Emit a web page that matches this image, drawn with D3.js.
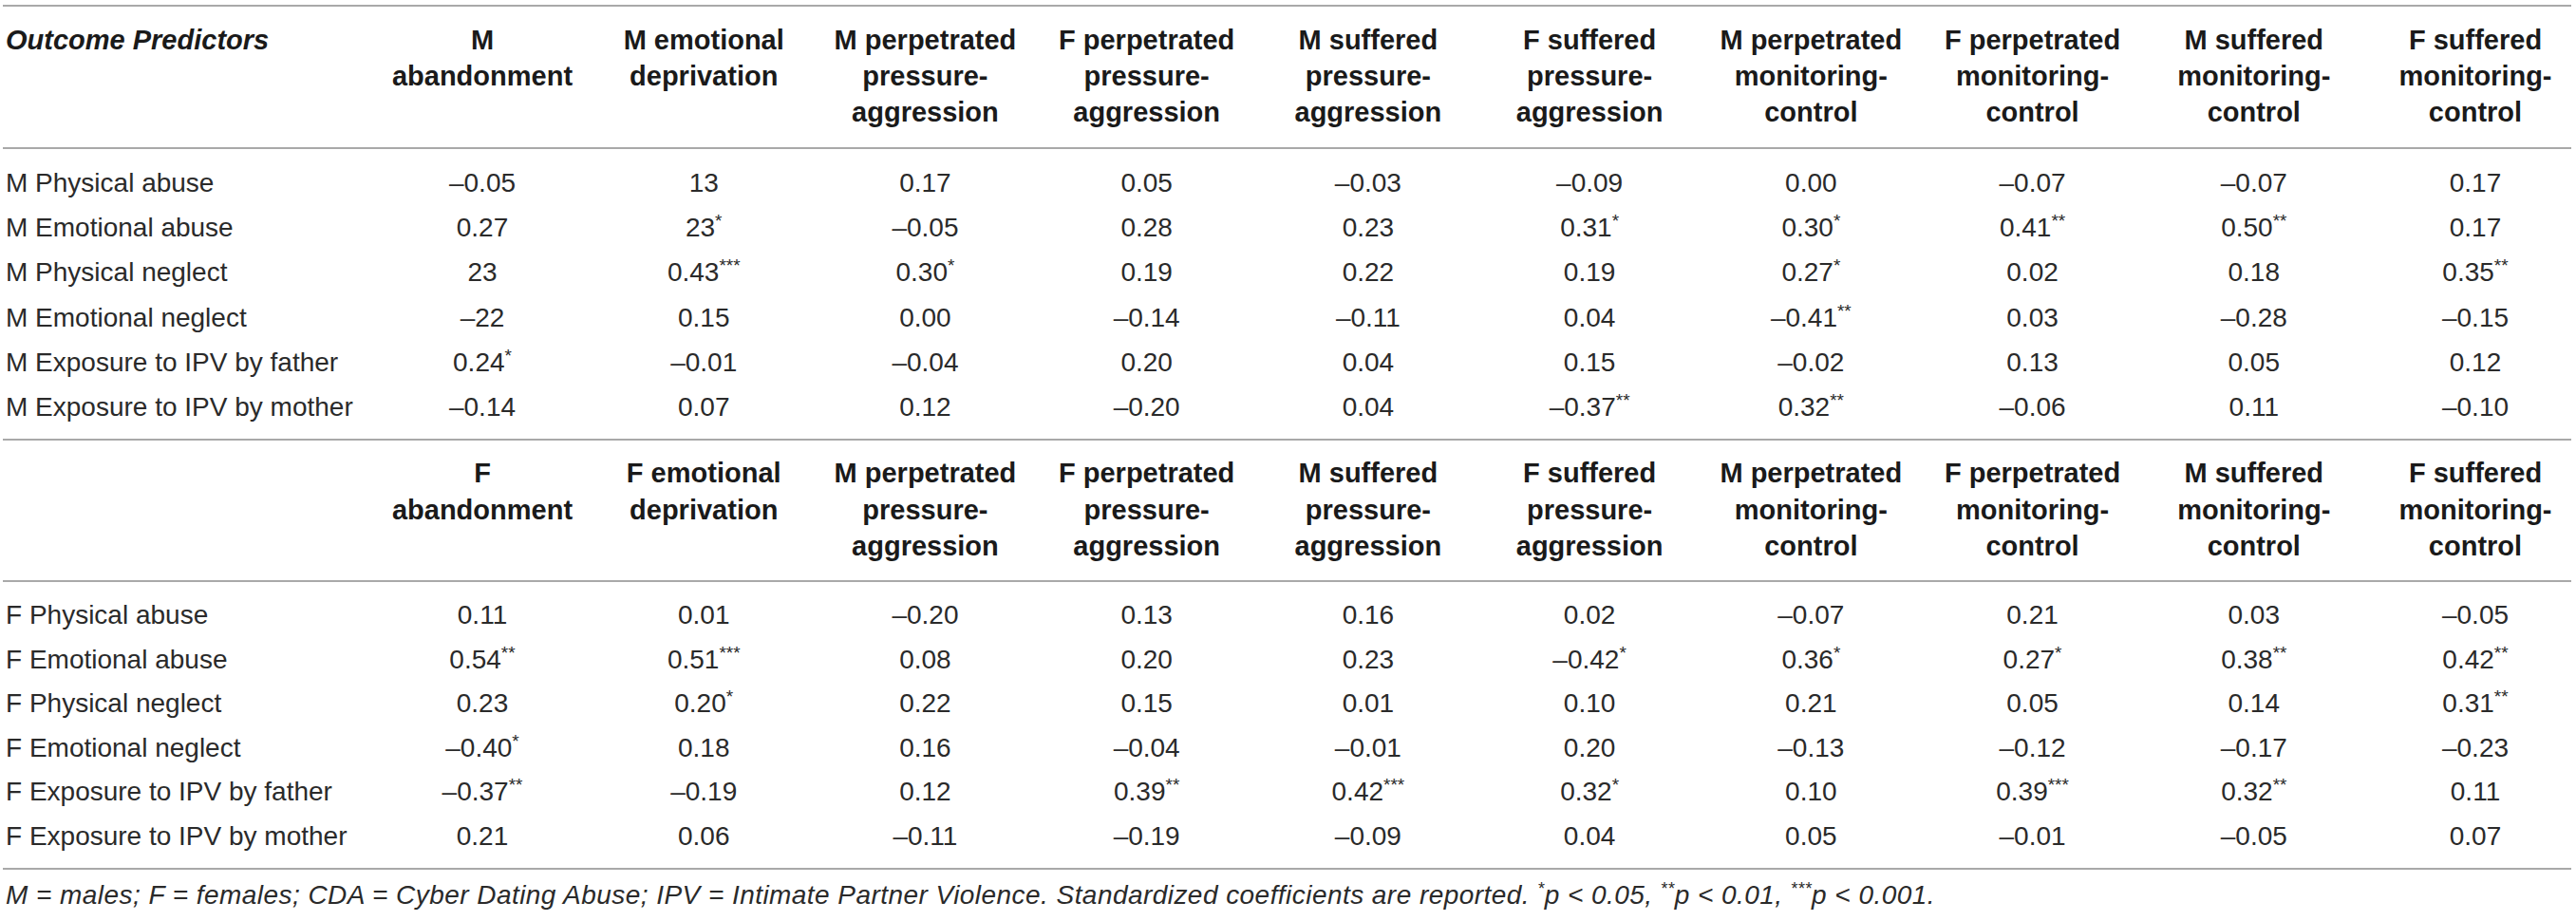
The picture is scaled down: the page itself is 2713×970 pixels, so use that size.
<!DOCTYPE html>
<html><head><meta charset="utf-8">
<script src="https://cdn.jsdelivr.net/npm/d3@7/dist/d3.min.js"></script>
<style>html,body{margin:0;padding:0;background:#fff;} svg{display:block;}</style>
</head><body>
<script>
// ---------- DATA ----------
const cornerLabel = "Outcome Predictors";

const outcomeHeadersM = [
  ["M", "abandonment"],
  ["M emotional", "deprivation"],
  ["M perpetrated", "pressure-", "aggression"],
  ["F perpetrated", "pressure-", "aggression"],
  ["M suffered", "pressure-", "aggression"],
  ["F suffered", "pressure-", "aggression"],
  ["M perpetrated", "monitoring-", "control"],
  ["F perpetrated", "monitoring-", "control"],
  ["M suffered", "monitoring-", "control"],
  ["F suffered", "monitoring-", "control"]
];
const outcomeHeadersF = [
  ["F", "abandonment"],
  ["F emotional", "deprivation"],
  ["M perpetrated", "pressure-", "aggression"],
  ["F perpetrated", "pressure-", "aggression"],
  ["M suffered", "pressure-", "aggression"],
  ["F suffered", "pressure-", "aggression"],
  ["M perpetrated", "monitoring-", "control"],
  ["F perpetrated", "monitoring-", "control"],
  ["M suffered", "monitoring-", "control"],
  ["F suffered", "monitoring-", "control"]
];

const predictorsM = [
  "M Physical abuse", "M Emotional abuse", "M Physical neglect",
  "M Emotional neglect", "M Exposure to IPV by father", "M Exposure to IPV by mother"
];
const predictorsF = [
  "F Physical abuse", "F Emotional abuse", "F Physical neglect",
  "F Emotional neglect", "F Exposure to IPV by father", "F Exposure to IPV by mother"
];

const coefficientsM = [
  ["–0.05", "13", "0.17", "0.05", "–0.03", "–0.09", "0.00", "–0.07", "–0.07", "0.17"],
  ["0.27", "23*", "–0.05", "0.28", "0.23", "0.31*", "0.30*", "0.41**", "0.50**", "0.17"],
  ["23", "0.43***", "0.30*", "0.19", "0.22", "0.19", "0.27*", "0.02", "0.18", "0.35**"],
  ["–22", "0.15", "0.00", "–0.14", "–0.11", "0.04", "–0.41**", "0.03", "–0.28", "–0.15"],
  ["0.24*", "–0.01", "–0.04", "0.20", "0.04", "0.15", "–0.02", "0.13", "0.05", "0.12"],
  ["–0.14", "0.07", "0.12", "–0.20", "0.04", "–0.37**", "0.32**", "–0.06", "0.11", "–0.10"]
];
const coefficientsF = [
  ["0.11", "0.01", "–0.20", "0.13", "0.16", "0.02", "–0.07", "0.21", "0.03", "–0.05"],
  ["0.54**", "0.51***", "0.08", "0.20", "0.23", "–0.42*", "0.36*", "0.27*", "0.38**", "0.42**"],
  ["0.23", "0.20*", "0.22", "0.15", "0.01", "0.10", "0.21", "0.05", "0.14", "0.31**"],
  ["–0.40*", "0.18", "0.16", "–0.04", "–0.01", "0.20", "–0.13", "–0.12", "–0.17", "–0.23"],
  ["–0.37**", "–0.19", "0.12", "0.39**", "0.42***", "0.32*", "0.10", "0.39***", "0.32**", "0.11"],
  ["0.21", "0.06", "–0.11", "–0.19", "–0.09", "0.04", "0.05", "–0.01", "–0.05", "0.07"]
];

const footnoteParts = [
  ["M = males; F = females; CDA = Cyber Dating Abuse; IPV = Intimate Partner Violence. Standardized coefficients are reported. ", false],
  ["*", true], ["p < 0.05, ", false],
  ["**", true], ["p < 0.01, ", false],
  ["***", true], ["p < 0.001.", false]
];

// ---------- LAYOUT ----------
const W = 2713, H = 970;
const FONT = "'Liberation Sans', Arial, Helvetica, sans-serif";
const TEXT = "#2a2a2a";
const RULE = "#a9a9a9";

const svg = d3.select("body").append("svg")
  .attr("width", W).attr("height", H)
  .attr("font-family", FONT);
svg.append("rect").attr("width", W).attr("height", H).attr("fill", "#fff");

const x = d3.scalePoint().domain(d3.range(10)).range([508, 2607]);
const ruleX = [3, 2708];

const sections = [
  { corner: cornerLabel, headers: outcomeHeadersM, rows: predictorsM, values: coefficientsM,
    topRule: 6, headBase: 52, headStep: 38.2, headRule: 156, rowRange: [202, 438] },
  { corner: "", headers: outcomeHeadersF, rows: predictorsF, values: coefficientsF,
    topRule: 463, headBase: 508, headStep: 38.6, headRule: 612, rowRange: [657, 890] }
];
const bottomRule = 915;

function rule(y) {
  svg.append("line").attr("x1", ruleX[0]).attr("x2", ruleX[1])
    .attr("y1", y).attr("y2", y)
    .attr("stroke", RULE).attr("stroke-width", 2.2);
}

function valueText(sel, str) {
  const m = str.match(/^([^*]*)(\**)$/);
  sel.append("tspan").text(m[1]);
  if (m[2]) {
    sel.append("tspan").attr("font-size", 19).attr("dy", -10).text(m[2]);
  }
}

sections.forEach(sec => {
  rule(sec.topRule);
  rule(sec.headRule);
  const y = d3.scalePoint().domain(d3.range(sec.rows.length)).range(sec.rowRange);

  if (sec.corner) {
    svg.append("text").attr("x", 6).attr("y", sec.headBase)
      .attr("font-size", 29).attr("font-weight", "bold").attr("font-style", "italic")
      .attr("fill", "#1a1a1a").text(sec.corner);
  }

  // header cells
  const hg = svg.append("g");
  sec.headers.forEach((lines, ci) => {
    const t = hg.append("text").attr("text-anchor", "middle")
      .attr("font-size", 29).attr("font-weight", "bold").attr("fill", "#1a1a1a");
    lines.forEach((ln, li) => {
      t.append("tspan").attr("x", x(ci)).attr("y", sec.headBase + li * sec.headStep).text(ln);
    });
  });

  // row labels
  svg.append("g").selectAll("text").data(sec.rows).join("text")
    .attr("x", 6).attr("y", (d, i) => y(i))
    .attr("font-size", 28).attr("fill", TEXT).text(d => d);

  // values
  sec.values.forEach((row, ri) => {
    row.forEach((v, ci) => {
      const t = svg.append("text").attr("x", x(ci)).attr("y", y(ri))
        .attr("text-anchor", "middle").attr("font-size", 28).attr("fill", TEXT);
      valueText(t, v);
    });
  });
});
rule(bottomRule);

// footnote
const fn = svg.append("text").attr("x", 6).attr("y", 952)
  .attr("font-size", 28).attr("letter-spacing", 0.45).attr("font-style", "italic").attr("fill", TEXT);
let raised = false;
footnoteParts.forEach(([t, sup]) => {
  const ts = fn.append("tspan").text(t);
  if (sup && !raised) { ts.attr("font-size", 18).attr("dy", -10); raised = true; }
  else if (!sup && raised) { ts.attr("dy", 10); raised = false; }
});
</script>
</body></html>
